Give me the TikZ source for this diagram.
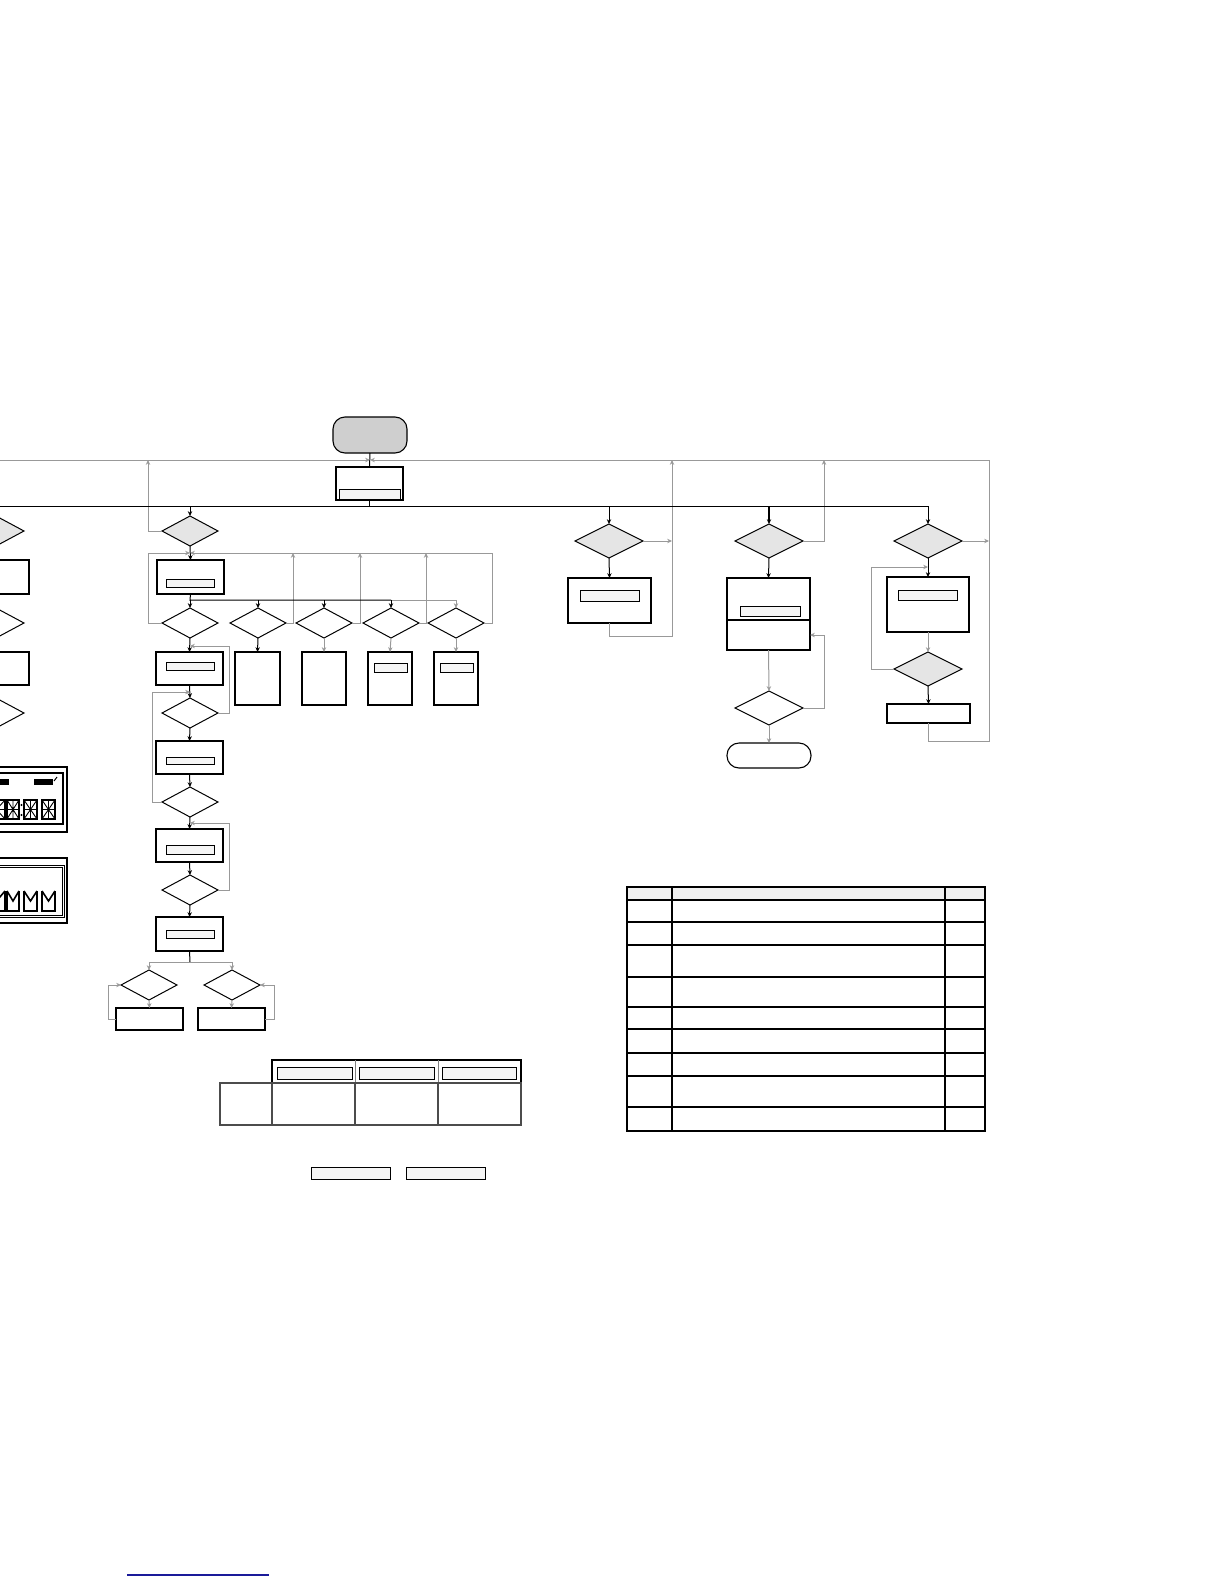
\documentclass[tikz,border=0pt]{standalone}
\usetikzlibrary{fit,shapes.geometric,arrows.meta}
\definecolor{lg}{HTML}{999999}
\definecolor{lnk}{HTML}{1A1A99}
\newcommand\lcdeight[4]{%
  \draw[line width=0.75pt] (#1,#3) rectangle (#2,#4);
  \draw[line width=0.45pt] ({(#1+#2)/2},#3) -- ({(#1+#2)/2},#4)
    (#1,{(#3+#4)/2}) -- (#2,{(#3+#4)/2})
    (#1,#3) -- (#2,#4) (#2,#3) -- (#1,#4);}
\newcommand\lcdmw[4]{%
  \draw[line width=0.8pt] (#1,#3) -- (#1,#4) -- (#2,#4) -- (#2,#3)
    (#1,#3) -- ({(#1+#2)/2},{(#3+#4)/2}) -- (#2,#3);}
\begin{document}
\begin{tikzpicture}[x=0.5pt,y=-0.5pt,
  box/.style={draw, line width=0.55pt, fill=white, inner sep=0pt, outer sep=0pt},
  bar/.style={draw, line width=0.5pt, fill=gray!8, inner sep=0pt, outer sep=0pt},
  dia/.style={diamond, draw, line width=0.5pt, fill=white, inner sep=0pt, outer sep=0pt, minimum width=28pt, minimum height=15pt},
  bdia/.style={dia, minimum width=34pt, minimum height=17pt},
  gfill/.style={fill=gray!20},
  term/.style={box, rounded corners=6pt},
  bl/.style={draw=black, line width=0.5pt},
  gl/.style={draw=lg, line width=0.5pt},
  arr/.style={-{Stealth[length=2.4pt,width=2.2pt]}}]
\useasboundingbox (0,0) rectangle (1224,1584);
\fill[white] (0,0) rectangle (1224,1584);
\clip (0,0) rectangle (1224,1584);

% ---------- top ----------
\node[term, fill=gray!38, fit={(333,417)(407,453)}] (start) {};
\node[box, fit={(336,467)(403,500)}] (S) {};
\node[bar, fit={(339,489)(400,499)}] (Sb) {};
\coordinate (jS) at (370,460);
\coordinate (topL) at (0,460);
\coordinate (topR) at (989,460);
\coordinate (busL) at (0,506);
\draw[bl] (start.south) -- (S.north);
\draw[gl,arr] (topL) -- (jS);
\draw[gl,arr] (topR) -- (jS);

% ---------- left column (cut off) ----------
\node[dia, gfill] (L1) at (-4,531) {};
\node[box, fit={(-40,560)(29,594)}] (L1b) {};
\node[dia] (L2) at (-4,623) {};
\node[box, fit={(-40,652)(29,685)}] (L2b) {};
\node[dia] (L3) at (-4,713) {};

% ---------- column A ----------
\node[dia, gfill] (A1d) at (190,531) {};
\node[box, fit={(157,560)(224,594)}] (A1) {};
\node[bar, fit={(166,579)(214,587)}] (A1bar) {};
\foreach \n/\x in {R1/190,R2/258,R3/324,R4/391,R5/456}
  \node[dia] (\n) at (\x,623) {};
\node[box, fit={(235,652)(280,705)}] (Q2) {};
\node[box, fit={(302,652)(346,705)}] (Q3) {};
\node[box, fit={(368,652)(412,705)}] (Q4) {};
\node[bar, fit={(374,663)(407,672)}] (Q4bar) {};
\node[box, fit={(434,652)(478,705)}] (Q5) {};
\node[bar, fit={(440,663)(473,672)}] (Q5bar) {};
\node[box, fit={(156,652)(223,685)}] (A2) {};
\node[bar, fit={(166,662)(214,670)}] (A2bar) {};
\node[dia] (A3d) at (190,713) {};
\node[box, fit={(156,741)(223,774)}] (A3) {};
\node[bar, fit={(166,757)(214,764)}] (A3bar) {};
\draw[line width=1.2pt] (A3.north west) -- (A3.north east);
\node[dia] (A4d) at (190,802) {};
\node[box, fit={(156,829)(223,862)}] (A4) {};
\node[bar, fit={(166,845)(214,854)}] (A4bar) {};
\node[dia] (A5d) at (190,890) {};
\node[box, fit={(156,917)(223,951)}] (A5) {};
\node[bar, fit={(166,930)(214,938)}] (A5bar) {};
\node[dia] (B1d) at (149,985) {};
\node[dia] (B2d) at (232,985) {};
\node[box, fit={(116,1008)(183,1030)}] (B1) {};
\node[box, fit={(198,1008)(265,1030)}] (B2) {};

\coordinate (jA) at (190,553);
\coordinate (bus3) at (190,600);
\coordinate (jA2) at (190,646);
\coordinate (jA3) at (190,692);
\coordinate (jA4) at (190,823);
\coordinate (jB) at (190,962);

\draw[bl,arr] (A1d.north |- busL) -- (A1d.north);
\draw[gl,arr] (A1d.west) -| (148,460);
\draw[bl,arr] (A1d.south) -- (A1.north);
\draw[gl,arr] (R1.west) -| (148,553) -- (jA);
\draw[gl,arr] (R5.east) -| (492,553) -- (jA);
\draw[gl,arr] (R2.east) -| (293,553);
\draw[gl,arr] (R3.east) -| (360,553);
\draw[gl,arr] (R4.east) -| (426,553);
\draw[bl] (A1.south) -- (bus3) -- (R4.north |- bus3);
\draw[gl] (R4.north |- bus3) -- (R5.north |- bus3);
\foreach \n in {R1,R2,R3,R4}
  \draw[bl,arr] (\n.north |- bus3) -- (\n.north);
\draw[gl,arr] (R5.north |- bus3) -- (R5.north);
\draw[bl,arr] (R1.south) -- (A2.north);
\draw[bl,arr] (R2.south) -- (Q2.north);
\draw[gl,arr] (R3.south) -- (Q3.north);
\draw[gl,arr] (R4.south) -- (Q4.north);
\draw[gl,arr] (R5.south) -- (Q5.north);
\draw[bl,arr] (A2.south) -- (A3d.north);
\draw[gl,arr] (A3d.east) -| (229,646) -- (jA2);
\draw[bl,arr] (A3d.south) -- (A3.north);
\draw[bl,arr] (A3.south) -- (A4d.north);
\draw[gl,arr] (A4d.west) -| (152,692) -- (jA3);
\draw[bl,arr] (A4d.south) -- (A4.north);
\draw[bl,arr] (A4.south) -- (A5d.north);
\draw[gl,arr] (A5d.east) -| (229,823) -- (jA4);
\draw[bl,arr] (A5d.south) -- (A5.north);
\draw[bl] (A5.south) -- (jB);
\draw[gl,arr] (jB) -| (B1d.north);
\draw[gl,arr] (jB) -| (B2d.north);
\draw[gl,arr] (B1d.south) -- (B1.north);
\draw[gl,arr] (B2d.south) -- (B2.north);
\draw[gl,arr] (B1.west) -| (108,985) -- (B1d.west);
\draw[gl,arr] (B2.east) -| (274,985) -- (B2d.east);

% ---------- column C ----------
\node[bdia, gfill] (C) at (609,541) {};
\node[box, fit={(568,578)(651,623)}] (Cb) {};
\node[bar, fit={(580,590)(639,601)}] (Cbar) {};
\draw[bl,arr] (C.north |- busL) -- (C.north);
\draw[gl,arr] (C.east) -- (672,541);
\draw[bl,arr] (C.south) -- (Cb.north);
\draw[gl,arr] (Cb.south) |- (672,636) -- (672,460);

% ---------- column D ----------
\node[bdia, gfill] (D) at (769,541) {};
\node[box, fit={(727,578)(810,650)}] (Db) {};
\draw[line width=1.2pt] (727,620) -- (810,620);
\node[bar, fit={(740,606)(800,616)}] (Dbar) {};
\node[bdia] (D2) at (769,708) {};
\node[term, fit={(727,743)(811,768)}] (end) {};
\draw[bl, line width=1pt, arr] (D.north |- busL) -- (D.north);
\draw[gl,arr] (D.east) -| (824,460);
\draw[bl,arr] (D.south) -- (Db.north);
\draw[gl,arr] (Db.south) -- (D2.north);
\draw[gl,arr] (D2.east) -| (824,635) -- (810,635);
\draw[gl,arr] (D2.south) -- (end.north);

% ---------- column E ----------
\node[bdia, gfill] (E) at (928,541) {};
\node[box, fit={(887,577)(969,632)}] (Eb) {};
\node[bar, fit={(898,590)(957,600)}] (Ebar) {};
\node[bdia, gfill] (E2) at (928,669) {};
\node[box, fit={(887,704)(970,723)}] (E2b) {};
\draw[bl] (S.south) -- (S.south |- busL);
\draw[bl,arr] (busL) -| (E.north);
\draw[gl,arr] (E.east) -- (989,541);
\draw[bl,arr] (E.south) -- (Eb.north);
\draw[gl,arr] (Eb.south) -- (E2.north);
\draw[gl,arr] (E2.west) -| (871,567) -- (928,567);
\draw[bl,arr] (E2.south) -- (E2b.north);
\draw[gl] (E2b.south) |- (989,741) -- (topR);

% ---------- LCD displays ----------
\draw[line width=0.6pt] (-40,767) rectangle (67,832);
\draw[line width=0.6pt] (-40,773) rectangle (63,824);
\fill (-10,779) rectangle (9,785);
\fill (34,779) rectangle (53,785);
\draw[line width=0.5pt] (54,781) -- (57,777);
\lcdeight{-12}{5}{800}{819}
\lcdeight{7}{19}{800}{819}
\lcdeight{24}{37}{800}{819}
\lcdeight{42}{55}{800}{819}
\fill (21.5,805) circle (1.1) (21.5,815) circle (1.1);
\draw[line width=0.6pt] (-40,858) rectangle (67,923);
\draw[line width=0.5pt] (-40,865) rectangle (64,917);
\draw[line width=0.5pt] (-40,867) rectangle (62,915);
\lcdmw{-12}{5}{891}{911}
\lcdmw{7}{19}{891}{911}
\lcdmw{24}{37}{891}{911}
\lcdmw{42}{55}{891}{911}

% ---------- table 1 ----------
\draw[line width=0.6pt] (272,1060) rectangle (521,1083);
\draw[line width=0.5pt, gray] (355,1060) -- (355,1083) (438,1060) -- (438,1083);
\node[bar, fit={(277,1067)(352,1079)}] (t1a) {};
\node[bar, fit={(359,1067)(434,1079)}] (t1b) {};
\node[bar, fit={(442,1067)(516,1079)}] (t1c) {};
\draw[line width=0.8pt, draw=gray!60!black] (220,1083) rectangle (521,1125)
  (272,1083) -- (272,1125) (355,1083) -- (355,1125) (438,1083) -- (438,1125);
\node[bar, fit={(311,1167)(390,1179)}] (k1) {};
\node[bar, fit={(406,1167)(485,1179)}] (k2) {};

% ---------- table 2 ----------
\fill[gray!12] (627,887) rectangle (985,900);
\draw[line width=0.7pt] (672,887) -- (672,1131) (945,887) -- (945,1131);
\foreach \y in {900,922,945,977,1007,1029,1053,1076,1107}
  \draw[line width=0.7pt] (627,\y) -- (985,\y);
\draw[line width=1.3pt] (627,887) rectangle (985,1131);

% ---------- link underline ----------
\draw[lnk, line width=0.6pt] (127,1575) -- (269,1575);
\end{tikzpicture}
\end{document}
